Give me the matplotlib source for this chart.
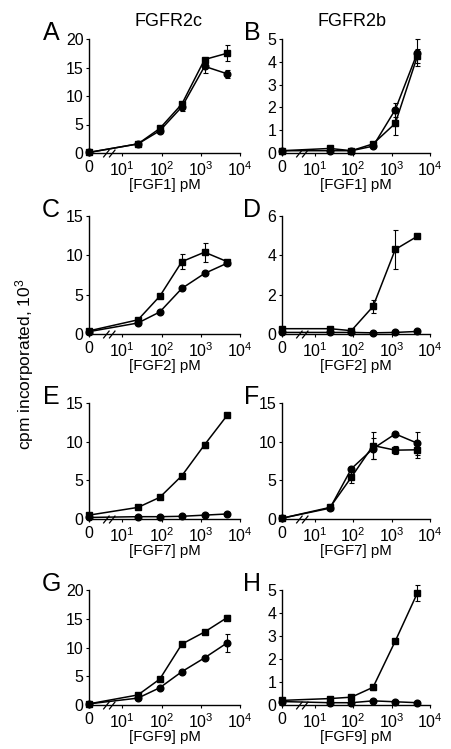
import numpy as np
import matplotlib
matplotlib.use("Agg")
import matplotlib.pyplot as plt
from matplotlib.path import Path
from matplotlib import transforms

plt.rcParams['font.family'] = ['Liberation Sans', 'DejaVu Sans']
plt.rcParams['mathtext.default'] = 'regular'

# ---- data ----
conc = [0, 25, 90, 330, 1250, 4700]          # pM
xtick_labels = ['0', '10$^1$', '10$^2$', '10$^3$', '10$^4$']
col_titles = ['FGFR2c', 'FGFR2b']
panel_letters = ['A', 'B', 'C', 'D', 'E', 'F', 'G', 'H']
ligands = ['FGF1', 'FGF1', 'FGF2', 'FGF2', 'FGF7', 'FGF7', 'FGF9', 'FGF9']
ylims = [20, 5, 15, 6, 15, 15, 20, 5]
ysteps = [5, 1, 5, 2, 5, 5, 5, 1]

sq_A = [0.1, 1.6, 4.3, 8.6, 16.4, 17.5]
sq_A_err = [0, 0.2, 0.3, 0.4, 0.3, 1.4]
ci_A = [0.1, 1.6, 3.9, 8.1, 15.2, 13.9]
ci_A_err = [0, 0.1, 0.2, 0.7, 1.2, 0.7]

sq_B = [0.1, 0.2, 0.1, 0.4, 1.3, 4.25]
sq_B_err = [0, 0.05, 0, 0.05, 0.5, 0.3]
ci_B = [0.1, 0.1, 0.1, 0.3, 1.9, 4.4]
ci_B_err = [0, 0, 0, 0.05, 0.3, 0.6]

sq_C = [0.4, 1.8, 4.8, 9.2, 10.4, 9.2]
sq_C_err = [0, 0.2, 0.2, 1.0, 1.2, 0.2]
ci_C = [0.3, 1.4, 2.8, 5.8, 7.7, 9.0]
ci_C_err = [0, 0.1, 0.1, 0.1, 0.1, 0.2]

sq_D = [0.27, 0.27, 0.17, 1.4, 4.3, 4.97]
sq_D_err = [0, 0, 0, 0.35, 1.0, 0.05]
ci_D = [0.08, 0.08, 0.08, 0.06, 0.08, 0.13]
ci_D_err = [0, 0, 0, 0, 0, 0]

sq_E = [0.5, 1.5, 2.8, 5.6, 9.6, 13.4]
sq_E_err = [0, 0.1, 0.1, 0.1, 0.4, 0.2]
ci_E = [0.2, 0.3, 0.3, 0.35, 0.5, 0.65]
ci_E_err = [0, 0, 0, 0, 0, 0]

sq_F = [0.1, 1.5, 5.4, 9.5, 8.9, 8.95]
sq_F_err = [0, 0.4, 0.7, 1.8, 0.5, 1.0]
ci_F = [0.1, 1.4, 6.5, 9.1, 11.0, 9.8]
ci_F_err = [0, 0.3, 0.2, 1.4, 0.1, 1.5]

sq_G = [0.2, 1.75, 4.5, 10.6, 12.7, 15.2]
sq_G_err = [0, 0.1, 0.2, 0.2, 0.3, 0.5]
ci_G = [0.2, 1.2, 3.0, 5.8, 8.2, 10.8]
ci_G_err = [0, 0.1, 0.1, 0.1, 0.1, 1.6]

sq_H = [0.2, 0.28, 0.34, 0.77, 2.78, 4.87]
sq_H_err = [0, 0.03, 0.03, 0.1, 0.05, 0.35]
ci_H = [0.15, 0.1, 0.1, 0.18, 0.14, 0.1]
ci_H_err = [0, 0, 0, 0, 0, 0]

squares = [sq_A, sq_B, sq_C, sq_D, sq_E, sq_F, sq_G, sq_H]
squares_err = [sq_A_err, sq_B_err, sq_C_err, sq_D_err, sq_E_err, sq_F_err, sq_G_err, sq_H_err]
circles = [ci_A, ci_B, ci_C, ci_D, ci_E, ci_F, ci_G, ci_H]
circles_err = [ci_A_err, ci_B_err, ci_C_err, ci_D_err, ci_E_err, ci_F_err, ci_G_err, ci_H_err]

# ---- layout ----
W, H = 451, 749
ZERO_POS = 0.15   # position of the "0" dose on the broken log axis
BREAK_POS = 0.66
rows_px = [(39, 153), (216, 334), (403, 519), (590, 705)]
cols_px = [(89, 240), (282, 430)]

def xpos(c):
    return np.array([np.log10(v) if v > 0 else ZERO_POS for v in c])

fig = plt.figure(figsize=(W / 100, H / 100), dpi=100)

slash = Path([(-1.6, -1.0), (0.0, 1.0), (-0.1, -1.0), (1.5, 1.0)],
             [Path.MOVETO, Path.LINETO, Path.MOVETO, Path.LINETO])

xp = xpos(conc)
for i in range(8):
    r, c = divmod(i, 2)
    t, b = rows_px[r]
    x0, x1 = cols_px[c]
    ax = fig.add_axes([x0 / W, 1 - b / H, (x1 - x0) / W, (b - t) / H])
    for s in ['top', 'right']:
        ax.spines[s].set_visible(False)
    for s in ['left', 'bottom']:
        ax.spines[s].set_linewidth(1.0)
    ax.errorbar(xp, squares[i], yerr=squares_err[i], color='black', lw=1.1,
                marker='s', ms=4.5, capsize=1.8, elinewidth=0.8, capthick=0.8,
                clip_on=False, zorder=3)
    ax.errorbar(xp, circles[i], yerr=circles_err[i], color='black', lw=1.1,
                marker='o', ms=4.8, capsize=1.8, elinewidth=0.8, capthick=0.8,
                clip_on=False, zorder=3)
    ax.set_xlim(ZERO_POS, 4.0)
    ax.set_ylim(0, ylims[i])
    yt = np.arange(0, ylims[i] + 0.01, ysteps[i])
    ax.set_yticks(yt)
    ax.set_yticklabels([str(int(v)) for v in yt])
    ax.set_xticks([ZERO_POS, 1, 2, 3, 4])
    ax.set_xticklabels(xtick_labels)
    ax.tick_params(axis='both', direction='out', length=2.5, width=0.8,
                   labelsize=11.5, pad=1.5)
    ax.tick_params(axis='x', pad=2.5)
    ax.set_xlabel('[%s] pM' % ligands[i], fontsize=10.8, labelpad=-0.5)
    # axis break marks
    bt = transforms.blended_transform_factory(ax.transData, ax.transAxes)
    ax.plot([BREAK_POS], [0], transform=bt, marker=slash, ms=9, mew=0.9,
            color='black', clip_on=False, zorder=4)
    # panel letter
    lx = 51 if c == 0 else 252
    fig.text(lx / W, 1 - (t + 1) / H, panel_letters[i], fontsize=18,
             ha='center', va='baseline')

fig.text(168 / W, 1 - 22 / H, col_titles[0], fontsize=13, ha='center', va='center')
fig.text(352 / W, 1 - 22 / H, col_titles[1], fontsize=13, ha='center', va='center')
fig.text(25 / W, 1 - 364 / H, 'cpm incorporated, 10$^3$', fontsize=12.5,
         rotation=90, ha='center', va='center')

fig.savefig('out.png', dpi=100)
